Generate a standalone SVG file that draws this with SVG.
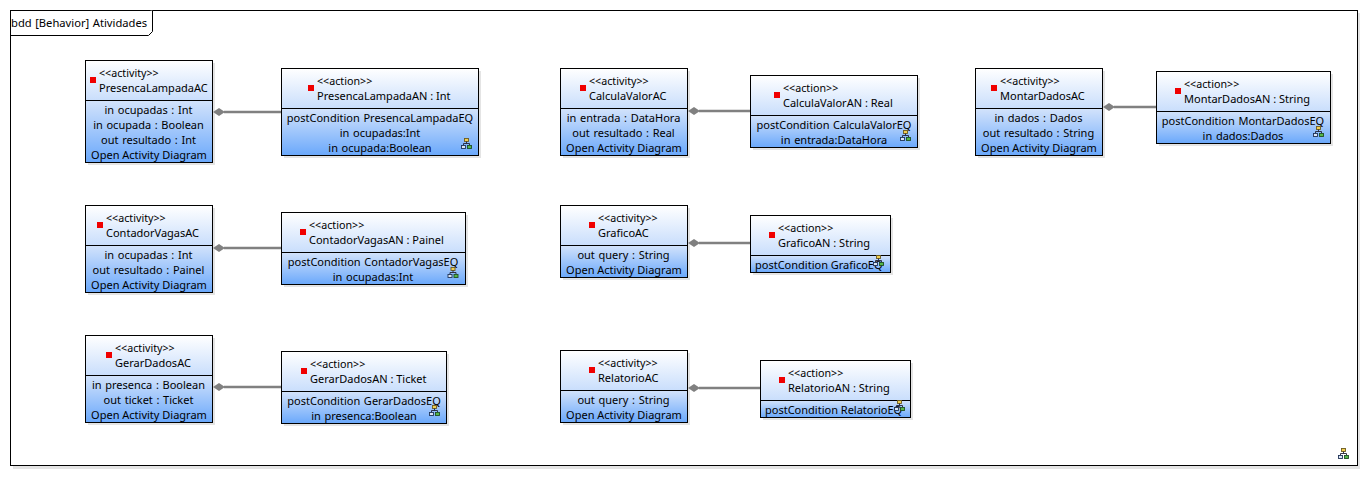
<svg xmlns="http://www.w3.org/2000/svg" width="1368" height="478" viewBox="0 0 1368 478">
<style>
text{font-family:"Noto Sans","Open Sans","DejaVu Sans",sans-serif;font-size:11px;fill:#000}
.c{text-anchor:middle;word-spacing:0.8px}
.a{text-anchor:middle}
.s{font-size:10.7px}
.t{font-size:11.2px;word-spacing:0.6px}
.sh{fill:#e4e4e4}
.h{fill:url(#gh);stroke:none}
.b{fill:url(#gb);stroke:none}
.o{fill:none;stroke:#000;stroke-width:1}
.l{stroke:#000;stroke-width:1}
.m{fill:#f00000}
.e{fill:none;stroke:#808080;stroke-width:2.5}
.d{fill:#808080;stroke:none}
</style>
<defs>
<linearGradient id="gh" x1="0" y1="0" x2="0" y2="1"><stop offset="0" stop-color="#ffffff"/><stop offset="1" stop-color="#c9defc"/></linearGradient>
<linearGradient id="gb" x1="0" y1="0" x2="0" y2="1"><stop offset="0" stop-color="#d3e3fb"/><stop offset="1" stop-color="#6aa8fb"/></linearGradient>
<g id="ic">
<rect x="3.5" y="0.500" width="4" height="3" fill="#f2cf50" stroke="#6b5a20" stroke-width="0.9"/>
<path d="M5.500 3.500V5.500M2.500 7V5.500H8.500V7" fill="none" stroke="#223" stroke-width="0.9"/>
<rect x="0.500" y="7.500" width="4" height="3" fill="#dbe6f5" stroke="#1f3357" stroke-width="0.9"/>
<rect x="6.500" y="7.500" width="4" height="3" fill="#55b84a" stroke="#1f4f24" stroke-width="0.9"/>
</g>
</defs>
<rect x="13" y="13" width="1347" height="456" class="sh"/>
<rect x="10.500" y="10.500" width="1347" height="455" fill="#fff" stroke="#000"/>
<path d="M10.500 35.500H148.500L152.500 31.500V10.500" fill="#fff" stroke="#000"/>
<text x="11" y="27" class="t">bdd [Behavior] Atividades</text>
<use href="#ic" x="1338" y="448"/>

<g id="PresencaLampadaAC">
<rect x="88" y="63" width="127" height="102" class="sh"/><rect x="85.500" y="60.500" width="127" height="40" class="h"/><rect x="85.500" y="100.500" width="127" height="62" class="b"/><rect x="85.500" y="60.500" width="127" height="102" class="o"/><path d="M85.500 100.500H212.500" class="l"/>
<rect x="90" y="77" width="6" height="6" class="m"/>
<text x="99" y="77" class="s">&lt;&lt;activity&gt;&gt;</text><text x="99" y="92">PresencaLampadaAC</text>
<text x="148.500" y="114" class="c">in ocupadas : Int</text><text x="148.500" y="129" class="c">in ocupada : Boolean</text><text x="148.500" y="144" class="c">out resultado : Int</text><text x="149" y="159" class="a">Open Activity Diagram</text>
</g>
<g id="PresencaLampadaAN">
<rect x="284" y="71" width="197" height="87" class="sh"/><rect x="281.500" y="68.500" width="197" height="40" class="h"/><rect x="281.500" y="108.500" width="197" height="47" class="b"/><rect x="281.500" y="68.500" width="197" height="87" class="o"/><path d="M281.500 108.500H478.500" class="l"/>
<rect x="308" y="85" width="6" height="6" class="m"/>
<text x="317" y="85" class="s">&lt;&lt;action&gt;&gt;</text><text x="317" y="100">PresencaLampadaAN : Int</text>
<text x="380" y="122" class="c">postCondition PresencaLampadaEQ</text><text x="380" y="137" class="c">in ocupadas:Int</text><text x="380" y="152" class="c">in ocupada:Boolean</text>
<use href="#ic" x="461" y="138"/>
</g>

<g id="CalculaValorAC">
<rect x="563" y="71" width="127" height="87" class="sh"/><rect x="560.500" y="68.500" width="127" height="40" class="h"/><rect x="560.500" y="108.500" width="127" height="47" class="b"/><rect x="560.500" y="68.500" width="127" height="87" class="o"/><path d="M560.500 108.500H687.500" class="l"/>
<rect x="580" y="85" width="6" height="6" class="m"/>
<text x="589" y="85" class="s">&lt;&lt;activity&gt;&gt;</text><text x="589" y="100">CalculaValorAC</text>
<text x="623.500" y="122" class="c">in entrada : DataHora</text><text x="623.500" y="137" class="c">out resultado : Real</text><text x="624" y="152" class="a">Open Activity Diagram</text>
</g>
<g id="CalculaValorAN">
<rect x="753" y="78" width="167" height="72" class="sh"/><rect x="750.500" y="75.500" width="167" height="40" class="h"/><rect x="750.500" y="115.500" width="167" height="32" class="b"/><rect x="750.500" y="75.500" width="167" height="72" class="o"/><path d="M750.500 115.500H917.500" class="l"/>
<rect x="774" y="92" width="6" height="6" class="m"/>
<text x="783" y="92" class="s">&lt;&lt;action&gt;&gt;</text><text x="783" y="107">CalculaValorAN : Real</text>
<text x="834" y="129" class="c">postCondition CalculaValorEQ</text><text x="834" y="144" class="c">in entrada:DataHora</text>
<use href="#ic" x="900" y="130"/>
</g>

<g id="MontarDadosAC">
<rect x="978" y="71" width="127" height="87" class="sh"/><rect x="975.500" y="68.500" width="127" height="40" class="h"/><rect x="975.500" y="108.500" width="127" height="47" class="b"/><rect x="975.500" y="68.500" width="127" height="87" class="o"/><path d="M975.500 108.500H1102.500" class="l"/>
<rect x="991" y="85" width="6" height="6" class="m"/>
<text x="1000" y="85" class="s">&lt;&lt;activity&gt;&gt;</text><text x="1000" y="100">MontarDadosAC</text>
<text x="1038.500" y="122" class="c">in dados : Dados</text><text x="1038.500" y="137" class="c">out resultado : String</text><text x="1039" y="152" class="a">Open Activity Diagram</text>
</g>
<g id="MontarDadosAN">
<rect x="1159" y="74" width="174" height="72" class="sh"/><rect x="1156.500" y="71.500" width="174" height="40" class="h"/><rect x="1156.500" y="111.500" width="174" height="32" class="b"/><rect x="1156.500" y="71.500" width="174" height="72" class="o"/><path d="M1156.500 111.500H1330.500" class="l"/>
<rect x="1175" y="88" width="6" height="6" class="m"/>
<text x="1184" y="88" class="s">&lt;&lt;action&gt;&gt;</text><text x="1184" y="103">MontarDadosAN : String</text>
<text x="1243" y="125" class="c">postCondition MontarDadosEQ</text><text x="1243" y="140" class="c">in dados:Dados</text>
<use href="#ic" x="1313" y="126"/>
</g>

<g id="ContadorVagasAC">
<rect x="88" y="208" width="127" height="87" class="sh"/><rect x="85.500" y="205.500" width="127" height="40" class="h"/><rect x="85.500" y="245.500" width="127" height="47" class="b"/><rect x="85.500" y="205.500" width="127" height="87" class="o"/><path d="M85.500 245.500H212.500" class="l"/>
<rect x="97" y="222" width="6" height="6" class="m"/>
<text x="106" y="222" class="s">&lt;&lt;activity&gt;&gt;</text><text x="106" y="237">ContadorVagasAC</text>
<text x="148.500" y="259" class="c">in ocupadas : Int</text><text x="148.500" y="274" class="c">out resultado : Painel</text><text x="149" y="289" class="a">Open Activity Diagram</text>
</g>
<g id="ContadorVagasAN">
<rect x="284" y="215" width="184" height="72" class="sh"/><rect x="281.500" y="212.500" width="184" height="40" class="h"/><rect x="281.500" y="252.500" width="184" height="32" class="b"/><rect x="281.500" y="212.500" width="184" height="72" class="o"/><path d="M281.500 252.500H465.500" class="l"/>
<rect x="300" y="229" width="6" height="6" class="m"/>
<text x="309" y="229" class="s">&lt;&lt;action&gt;&gt;</text><text x="309" y="244">ContadorVagasAN : Painel</text>
<text x="373" y="266" class="c">postCondition ContadorVagasEQ</text><text x="373" y="281" class="c">in ocupadas:Int</text>
<use href="#ic" x="447.500" y="267"/>
</g>

<g id="GraficoAC">
<rect x="563" y="208" width="127" height="72" class="sh"/><rect x="560.500" y="205.500" width="127" height="40" class="h"/><rect x="560.500" y="245.500" width="127" height="32" class="b"/><rect x="560.500" y="205.500" width="127" height="72" class="o"/><path d="M560.500 245.500H687.500" class="l"/>
<rect x="589" y="222" width="6" height="6" class="m"/>
<text x="598" y="222" class="s">&lt;&lt;activity&gt;&gt;</text><text x="598" y="237">GraficoAC</text>
<text x="623.500" y="259" class="c">out query : String</text><text x="624" y="274" class="a">Open Activity Diagram</text>
</g>
<g id="GraficoAN">
<rect x="753" y="218" width="140" height="57" class="sh"/><rect x="750.500" y="215.500" width="140" height="40" class="h"/><rect x="750.500" y="255.500" width="140" height="17" class="b"/><rect x="750.500" y="215.500" width="140" height="57" class="o"/><path d="M750.500 255.500H890.500" class="l"/>
<rect x="769" y="232" width="6" height="6" class="m"/>
<text x="778" y="232" class="s">&lt;&lt;action&gt;&gt;</text><text x="778" y="247">GraficoAN : String</text>
<text x="755" y="269">postCondition GraficoEQ</text>
<use href="#ic" x="873" y="255"/>
</g>

<g id="GerarDadosAC">
<rect x="88" y="338" width="127" height="87" class="sh"/><rect x="85.500" y="335.500" width="127" height="40" class="h"/><rect x="85.500" y="375.500" width="127" height="47" class="b"/><rect x="85.500" y="335.500" width="127" height="87" class="o"/><path d="M85.500 375.500H212.500" class="l"/>
<rect x="106" y="352" width="6" height="6" class="m"/>
<text x="115" y="352" class="s">&lt;&lt;activity&gt;&gt;</text><text x="115" y="367">GerarDadosAC</text>
<text x="148.500" y="389" class="c">in presenca : Boolean</text><text x="148.500" y="404" class="c">out ticket : Ticket</text><text x="149" y="419" class="a">Open Activity Diagram</text>
</g>
<g id="GerarDadosAN">
<rect x="284" y="354" width="165" height="72" class="sh"/><rect x="281.500" y="351.500" width="165" height="40" class="h"/><rect x="281.500" y="391.500" width="165" height="32" class="b"/><rect x="281.500" y="351.500" width="165" height="72" class="o"/><path d="M281.500 391.500H446.500" class="l"/>
<rect x="301" y="368" width="6" height="6" class="m"/>
<text x="310" y="368" class="s">&lt;&lt;action&gt;&gt;</text><text x="310" y="383">GerarDadosAN : Ticket</text>
<text x="364" y="405" class="c">postCondition GerarDadosEQ</text><text x="364" y="420" class="c">in presenca:Boolean</text>
<use href="#ic" x="429" y="405"/>
</g>

<g id="RelatorioAC">
<rect x="563" y="353" width="127" height="72" class="sh"/><rect x="560.500" y="350.500" width="127" height="40" class="h"/><rect x="560.500" y="390.500" width="127" height="32" class="b"/><rect x="560.500" y="350.500" width="127" height="72" class="o"/><path d="M560.500 390.500H687.500" class="l"/>
<rect x="589" y="367" width="6" height="6" class="m"/>
<text x="598" y="367" class="s">&lt;&lt;activity&gt;&gt;</text><text x="598" y="382">RelatorioAC</text>
<text x="623.500" y="404" class="c">out query : String</text><text x="624" y="419" class="a">Open Activity Diagram</text>
</g>
<g id="RelatorioAN">
<rect x="763" y="363" width="150" height="57" class="sh"/><rect x="760.500" y="360.500" width="150" height="40" class="h"/><rect x="760.500" y="400.500" width="150" height="17" class="b"/><rect x="760.500" y="360.500" width="150" height="57" class="o"/><path d="M760.500 400.500H910.500" class="l"/>
<rect x="779" y="377" width="6" height="6" class="m"/>
<text x="788" y="377" class="s">&lt;&lt;action&gt;&gt;</text><text x="788" y="392">RelatorioAN : String</text>
<text x="765" y="414">postCondition RelatorioEQ</text>
<use href="#ic" x="894" y="400"/>
</g>

<g id="connectors">
<path class="e" d="M224 112H281"/><path class="d" d="M213 112l6-4 6 4-6 4z"/>
<path class="e" d="M699 111H750"/><path class="d" d="M688 111l6-4 6 4-6 4z"/>
<path class="e" d="M1114 107H1156"/><path class="d" d="M1103 107l6-4 6 4-6 4z"/>
<path class="e" d="M224 248H281"/><path class="d" d="M213 248l6-4 6 4-6 4z"/>
<path class="e" d="M699 243H750"/><path class="d" d="M688 243l6-4 6 4-6 4z"/>
<path class="e" d="M224 387H281"/><path class="d" d="M213 387l6-4 6 4-6 4z"/>
<path class="e" d="M699 388H760"/><path class="d" d="M688 388l6-4 6 4-6 4z"/>
</g>
</svg>
